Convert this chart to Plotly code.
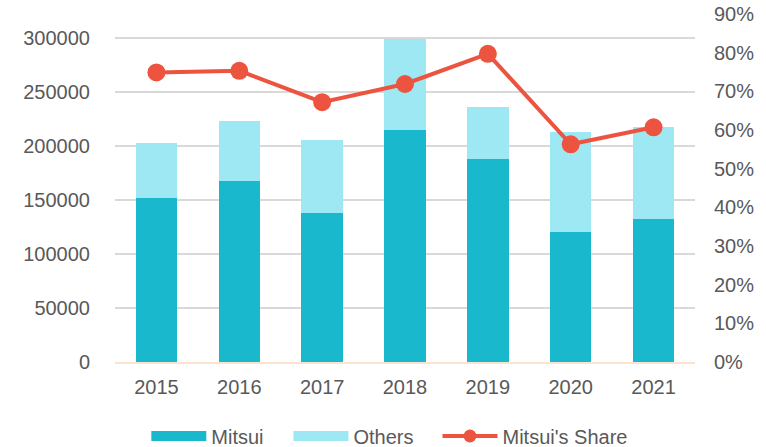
import plotly.graph_objects as go

years = ["2015", "2016", "2017", "2018", "2019", "2020", "2021"]
mitsui = [152000, 168000, 138000, 215000, 188000, 120000, 132000]
others = [51000, 55000, 67500, 84000, 48000, 93000, 85500]
share = [0.749, 0.753, 0.672, 0.719, 0.797, 0.563, 0.607]

FONT = "Liberation Sans, Arial, sans-serif"
GRAY = "#595959"
C_MITSUI = "#1AB8CC"
C_OTHERS = "#9DE8F2"
C_SHARE = "#EC5440"

fig = go.Figure()
fig.add_trace(go.Bar(x=years, y=mitsui, name="Mitsui", marker_color=C_MITSUI,
                     marker_line_width=0, width=0.5, showlegend=False))
fig.add_trace(go.Bar(x=years, y=others, name="Others", marker_color=C_OTHERS,
                     marker_line_width=0, width=0.5, showlegend=False))
fig.add_trace(go.Scatter(x=years, y=share, name="Mitsui's Share", yaxis="y2",
                         mode="lines+markers",
                         line=dict(color=C_SHARE, width=4),
                         marker=dict(color=C_SHARE, size=18), showlegend=False))
# legend entries (wide rectangular swatches like the original)
fig.add_trace(go.Scatter(x=[None], y=[None], name="Mitsui", mode="lines",
                         line=dict(color=C_MITSUI, width=11), legend="legend"))
fig.add_trace(go.Scatter(x=[None], y=[None], name="Others", mode="lines",
                         line=dict(color=C_OTHERS, width=11), legend="legend2"))
fig.add_trace(go.Scatter(x=[None], y=[None], name="Mitsui's Share", mode="lines+markers",
                         line=dict(color=C_SHARE, width=4),
                         marker=dict(color=C_SHARE, size=13), legend="legend3"))

leg_common = dict(orientation="h", xanchor="left", y=-0.2126, yanchor="middle",
                  font=dict(size=20, color=GRAY), itemwidth=55,
                  bgcolor="rgba(0,0,0,0)")

fig.update_layout(
    width=766, height=447,
    barmode="stack",
    margin=dict(l=115, r=71, t=14, b=85, autoexpand=False),
    plot_bgcolor="white", paper_bgcolor="white",
    font=dict(family=FONT, size=20, color=GRAY),
    xaxis=dict(showgrid=False, showline=True, linecolor="#FBE3CF", linewidth=2,
               ticks="", tickfont=dict(size=20, color=GRAY), ticklabelstandoff=6,
               automargin=False),
    yaxis=dict(range=[0, 322222], tickvals=[0, 50000, 100000, 150000, 200000, 250000, 300000],
               ticktext=["0", "50000", "100000", "150000", "200000", "250000", "300000"],
               showgrid=True, gridcolor="#D9D9D9", gridwidth=2, zeroline=False,
               showline=False, ticks="", ticklabelstandoff=24,
               tickfont=dict(size=20, color=GRAY), automargin=False),
    yaxis2=dict(range=[0, 0.9], overlaying="y", side="right", tickformat=".0%",
                dtick=0.1, showgrid=False, zeroline=False, showline=False, ticks="",
                ticklabelstandoff=18, tickfont=dict(size=20, color=GRAY),
                automargin=False),
    legend=dict(x=0.054, **leg_common),
    legend2=dict(x=0.299, **leg_common),
    legend3=dict(x=0.556, **leg_common),
)

fig.write_html("out.html", config={"displayModeBar": False},
               post_script="document.body.style.margin='0';document.body.style.overflow='hidden';")
